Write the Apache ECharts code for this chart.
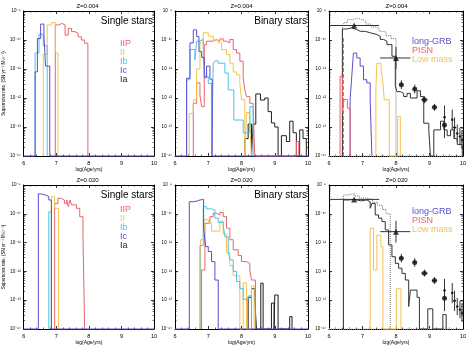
<!DOCTYPE html>
<html>
<head>
<meta charset="utf-8">
<script src="https://cdn.jsdelivr.net/npm/echarts@6/dist/echarts.min.js"></script>
<style>html,body{margin:0;padding:0;background:#fff;}</style>
</head>
<body>
<div id="main" style="width:469px;height:348px;"></div>
<script type="text/javascript">
// histograms: [logAge of left edge, log10 rate] ... last entry = right edge only
var s004IIP = [[6.97,-9.48],[7.07,-9.43],[7.17,-9.48],[7.27,-9.83],[7.37,-9.6],[7.47,-9.71],[7.57,-9.77],[7.67,-9.89],[7.77,-10.0],[7.87,-10.11],[7.97]];
var s004II  = [[6.6,-10.5],[6.72,-9.48],[6.85,-9.4],[6.97,-10.45],[7.05]];
var s004Ib  = [[6.35,-10.45],[6.47,-9.8],[6.6,-10.2],[6.72]];
var s004Ic  = [[6,-14],[6.35,-11.1],[6.42,-9.95],[6.52,-9.45],[6.62,-9.8],[6.67,-10.9],[6.8,-14],[10]];

var b004IIP = [[6.55,-12.18],[6.65,-11.48],[6.75,-11.9],[6.8,-12.3],[6.88,-10.16],[6.95,-10.04],[7.15,-9.98],[7.25,-10.04],[7.35,-9.96],[7.45,-10.04],[7.55,-10.1],[7.65,-9.98],[7.75,-10.33],[7.85,-10.45],[7.95,-10.73],[8.05,-11.3],[8.1,-11.72],[8.15,-11.95],[8.25,-12.18],[8.35,-12.3],[8.4,-14],[9.65,-13.5],[9.72]];
var b004II  = [[6.43,-12.53],[6.55,-12.06],[6.65,-11.0],[6.75,-10.1],[6.85,-9.75],[7.0,-9.87],[7.15,-10.0],[7.3,-10.1],[7.4,-10.33],[7.55,-10.5],[7.65,-10.8],[7.75,-11.1],[7.85,-11.2],[7.95,-11.5],[8.0,-12.06],[8.1,-14],[8.15,-12.5],[8.25,-12.9],[8.3]];
var b004Ib  = [[6.35,-11.37],[6.45,-10.33],[6.6,-10.68],[6.65,-10.04],[6.75,-9.98],[6.85,-10.6],[6.9,-11.25],[7.0,-11.5],[7.1,-14],[7.15,-10.8],[7.2,-10.72],[7.3,-10.8],[7.5,-11.14],[7.6,-11.72],[7.77,-12.76],[8.05,-13.2],[8.25,-12.3],[8.35]];
var b004Ic  = [[6,-14],[6.35,-11.32],[6.45,-10.1],[6.55,-9.65],[6.65,-9.88],[6.72,-10.4],[6.8,-10.6],[6.88,-11.3],[6.95,-10.9],[7.05,-11.35],[7.12,-14],[10]];
var b004Ia  = [[8.1,-13.4],[8.2,-12.9],[8.3,-14],[8.35,-12.9],[8.43,-11.86],[8.57,-12.07],[8.7,-12.0],[8.8,-12.47],[8.9,-12.86],[9.0,-13.0],[9.1,-14],[9.2,-13.3],[9.35,-13.5],[9.45,-12.8],[9.55,-13.2],[9.65,-14],[9.75,-13.1],[9.85,-13.4],[9.95]];

var t004All  = [[6.4,-9.62],[6.53,-9.58],[6.68,-9.64],[6.83,-9.7],[6.93,-9.7],[7.08,-9.75],[7.23,-9.81],[7.43,-9.87],[7.53,-9.98],[7.63,-10.04],[7.73,-10.16],[7.88,-10.56],[7.98,-11.6],[8.03,-11.78],[8.13,-11.84],[8.23,-11.95],[8.33,-11.84],[8.43,-12.0],[8.63,-11.75],[8.73,-11.95],[8.83,-12.87],[8.98,-13.1],[9.03,-14],[9.13,-13.1],[9.33,-12.8],[9.43,-13.1],[9.53,-13.3],[9.63,-13.1],[9.73,-13.4],[9.83,-13.6],[9.98]];
var t004Dot  = [[6.4,-9.5],[6.45,-9.4],[6.55,-9.3],[6.7,-9.25],[6.85,-9.3],[7.0,-9.35],[7.1,-9.45],[7.25,-9.55],[7.4,-9.6],[7.5,-9.7],[7.6,-9.72],[7.7,-9.85],[7.85,-9.95],[8.0]];
var t004GRB  = [[6.63,-12.06],[6.68,-11.25],[6.73,-10.45],[6.83,-10.62],[6.93,-10.9],[7.03,-11.37],[7.13,-11.48],[7.23,-12.06],[7.28]];
var t004PISN = [[6.33,-11.25],[6.4,-12.5],[6.45,-12.05],[6.55,-12.35],[6.63]];
var t004PISNd = [[6.43,-9.9],[6.43]];
var t004Low  = [[7.4,-11.7],[7.43,-10.8],[7.55,-10.95],[7.6,-11.37],[7.65,-12.06],[7.8,-14],[8.05,-12.64],[8.13]];

var s020IIP = [[6.95,-9.64],[7.05,-9.46],[7.15,-9.52],[7.25,-9.64],[7.32,-9.52],[7.37,-9.75],[7.42,-9.52],[7.47,-9.69],[7.62,-9.81],[7.72,-10.1],[7.82,-10.79],[7.87]];
var s020II  = [[6.85,-9.4],[6.95,-9.81],[7.07]];
var s020Ib  = [[6.77,-9.93],[6.85]];
var s020Ic  = [[6,-14],[6.45,-9.31],[6.55,-9.35],[6.67,-9.4],[6.77,-9.52],[6.85,-14],[10]];

var b020IIP = [[6.8,-11.95],[6.9,-10.33],[7.05,-10.1],[7.15,-9.98],[7.25,-10.04],[7.35,-9.95],[7.45,-10.1],[7.55,-10.5],[7.65,-10.9],[7.75,-11.25],[7.9,-11.45],[8.0,-11.66],[8.15,-11.72],[8.25,-11.95],[8.3,-12.3],[8.42]];
var b020II  = [[6.77,-10.9],[6.88,-10.2],[7.0,-10.33],[7.1,-10.6],[7.35,-10.25],[7.45,-10.7],[7.55,-11.35],[7.65,-11.8],[7.75,-12.15],[7.95,-14],[8.05,-12.4],[8.15,-14],[8.3,-12.5],[8.38]];
var b020Ib  = [[6.75,-11.1],[6.85,-9.75],[6.95,-9.83],[7.1,-9.87],[7.2,-10.15],[7.3,-10.3],[7.45,-10.4],[7.5,-10.8],[7.6,-11.3],[7.65,-11.6],[7.75,-12.0],[7.85,-12.35],[7.95,-12.6],[8.05,-12.97],[8.2,-12.85],[8.3]];
var b020Ic  = [[6,-14],[6.43,-9.58],[6.55,-9.56],[6.65,-9.52],[6.75,-9.5],[6.86,-10.5],[6.92,-11.14],[7.0,-11.31],[7.1,-11.66],[7.2,-12.3],[7.3,-14],[10]];
var b020Ia  = [[8.2,-12.9],[8.3,-12.6],[8.4,-13.0],[8.45,-14],[8.58,-12.41],[8.65,-14],[8.9,-13.1],[8.98,-14],[9.0,-12.82],[9.1,-14],[9.45,-13.57],[9.52]];

var t020All = [[6.43,-9.52],[6.6,-9.5],[6.75,-9.55],[6.95,-9.52],[7.13,-9.58],[7.23,-9.81],[7.28,-9.64],[7.38,-10.04],[7.48,-10.15],[7.58,-10.27],[7.68,-10.56],[7.78,-11.08],[7.88,-11.49],[7.98,-11.72],[8.08,-11.89],[8.18,-12.07],[8.28,-12.3],[8.38,-13.22],[8.43,-12.65],[8.63,-12.9],[8.7,-14],[8.95,-13.3],[9.1,-14],[9.4,-13.5],[9.5]];
var t020Dot = [[6.43,-9.35],[6.55,-9.3],[6.75,-9.38],[6.9,-9.45],[7.1,-9.5],[7.3,-9.6],[7.45,-9.7],[7.6,-9.85],[7.7,-10.0],[7.83]];
var t020Low = [[7.23,-10.5],[7.33,-11.95],[7.43,-10.74],[7.55,-11.14],[7.61,-14],[8.01,-12.6],[8.15]];
var floorLine = [[6,-14],[10]];

// observed rates (log10 SN / yr / Msun)
var obsAge   = [6.75, 8.0, 8.16, 8.56, 8.85, 9.15, 9.45, 9.45, 9.68, 9.75, 9.83, 9.91, 9.97];
var obsLg    = [-9.5, -10.62, -11.54, -11.69, -12.06, -12.32, -12.93, -12.66, -12.75, -13.02, -13.22, -13.33, -13.45];
var obsAgeLo = [6.0, 7.53, 8.1, 8.5, 8.75, 9.07, 9.4, 9.42, 9.65, 9.7, 9.8, 9.88, 9.94];
var obsAgeHi = [7.5, 8.43, 8.22, 8.62, 8.95, 9.23, 9.5, 9.48, 9.71, 9.8, 9.86, 9.94, 10.0];
var obsLgErr = [0.02, 0.38, 0.15, 0.15, 0.12, 0.12, 0.45, 0.4, 0.35, 0.35, 0.3, 0.3, 0.3];
var obsKind  = ['tri','tri','dot','dot','dot','dot','dot','small','small','small','small','small','small'];

var yTicks = ['10⁻¹⁴','10⁻¹³','10⁻¹²','10⁻¹¹','10⁻¹⁰','10⁻⁹'];
var xTicks = ['6','7','8','9','10'];

var RED = '#e8646e', YEL = '#f5c24c', CYA = '#4cc2e6', PUR = '#5a4ed0', BLK = '#1e1e1e';
var FLOOR = 1e-14;
var FONT = '"Liberation Sans", "DejaVu Sans", sans-serif';

function hist(edges) {
    var pts = [[edges[0][0], FLOOR]];
    edges.forEach(function (e) {
        pts.push([e[0], e.length > 1 ? Math.pow(10, e[1]) : FLOOR]);
    });
    return pts;
}

var grids = [
    {left: 21, top: 11, width: 133, height: 145},
    {left: 175, top: 11, width: 133, height: 145},
    {left: 329, top: 11, width: 135, height: 145},
    {left: 21, top: 185, width: 133, height: 144},
    {left: 175, top: 185, width: 133, height: 144},
    {left: 329, top: 185, width: 135, height: 144}
];
var panelTitles = ['Z=0.004', 'Z=0.004', 'Z=0.004', 'Z=0.020', 'Z=0.020', 'Z=0.020'];

var xAxes = [], yAxes = [], series = [], graphics = [];
grids.forEach(function (g, i) {
    var tick = {show: true, inside: true, length: 3, lineStyle: {color: '#000', width: 0.8}};
    var minor = {show: true, splitNumber: 5, length: 1.5, lineStyle: {color: '#000', width: 0.6}};
    xAxes.push({
        type: 'value', gridIndex: i, min: 6, max: 10, interval: 1, position: 'bottom',
        axisLine: {show: true, onZero: false, lineStyle: {color: '#000', width: 1}},
        axisTick: tick, minorTick: minor, splitLine: {show: false},
        axisLabel: {fontSize: 5.5, color: '#000', margin: 4, fontFamily: FONT,
            formatter: function (v) { return xTicks[Math.round(v) - 6]; }},
        name: 'log(Age/yrs)', nameLocation: 'middle', nameGap: 11,
        nameTextStyle: {fontSize: 5, color: '#000', fontFamily: FONT}
    });
    xAxes.push({
        type: 'value', gridIndex: i, min: 6, max: 10, interval: 1, position: 'top',
        axisLine: {show: true, onZero: false, lineStyle: {color: '#000', width: 1}},
        axisTick: tick, minorTick: minor, splitLine: {show: false}, axisLabel: {show: false}
    });
    var ymin = {show: true, splitNumber: 9, length: 1.5, lineStyle: {color: '#000', width: 0.6}};
    yAxes.push({
        type: 'log', logBase: 10, gridIndex: i, min: 1e-14, max: 1e-9, position: 'left',
        axisLine: {show: true, onZero: false, lineStyle: {color: '#000', width: 1}},
        axisTick: tick, minorTick: ymin, splitLine: {show: false},
        axisLabel: {fontSize: 4.5, color: '#000', margin: 3, fontFamily: FONT,
            formatter: function (v) { return yTicks[Math.round(Math.log10(v)) + 14]; }},
        name: (i % 3 === 0) ? 'Supernova rate, (SN yr⁻¹ M☉⁻¹)' : '',
        nameLocation: 'middle', nameGap: 15,
        nameTextStyle: {fontSize: 4.5, color: '#000', fontFamily: FONT}
    });
    yAxes.push({
        type: 'log', logBase: 10, gridIndex: i, min: 1e-14, max: 1e-9, position: 'right',
        axisLine: {show: true, onZero: false, lineStyle: {color: '#000', width: 1}},
        axisTick: tick, minorTick: ymin, splitLine: {show: false}, axisLabel: {show: false}
    });
    graphics.push({type: 'text', x: g.left + g.width / 2, y: g.top - 5,
        style: {text: panelTitles[i], fill: '#000', font: '6px ' + FONT, align: 'center', verticalAlign: 'middle'}});
});

function addHist(panel, edges, color, extra) {
    var s = {
        type: 'line', xAxisIndex: panel * 2, yAxisIndex: panel * 2, data: hist(edges),
        step: 'end', symbol: 'none', showSymbol: false, clip: false, animation: false, silent: true,
        lineStyle: {color: color, width: 1}, itemStyle: {color: color}
    };
    if (extra) s.lineStyle.type = extra;
    series.push(s);
}

// Panel 0: single, Z=0.004
addHist(0, s004IIP, RED); addHist(0, s004II, YEL); addHist(0, s004Ib, CYA); addHist(0, s004Ic, PUR);
// Panel 1: binary, Z=0.004
addHist(1, b004Ia, BLK); addHist(1, b004IIP, RED); addHist(1, b004II, YEL); addHist(1, b004Ib, CYA); addHist(1, b004Ic, PUR);
// Panel 2: totals, Z=0.004
addHist(2, floorLine, YEL, 'dotted');
addHist(2, t004Dot, '#777', 'dotted'); addHist(2, t004All, '#333');
addHist(2, t004GRB, PUR); addHist(2, t004PISN, RED); addHist(2, t004PISNd, RED, 'dashed'); addHist(2, t004Low, YEL);
// Panel 3: single, Z=0.020
addHist(3, s020IIP, RED); addHist(3, s020II, YEL); addHist(3, s020Ib, CYA); addHist(3, s020Ic, PUR);
// Panel 4: binary, Z=0.020
addHist(4, b020Ia, BLK); addHist(4, b020IIP, RED); addHist(4, b020II, YEL); addHist(4, b020Ib, CYA); addHist(4, b020Ic, PUR);
// Panel 5: totals, Z=0.020
addHist(5, floorLine, YEL, 'dotted');
addHist(5, t020Dot, '#777', 'dotted'); addHist(5, t020All, '#333'); addHist(5, t020Low, YEL);

// observations on both total panels
var errData = obsAge.map(function (a, k) {
    return [a, Math.pow(10, obsLg[k]), obsAgeLo[k], obsAgeHi[k],
        Math.pow(10, obsLg[k] - obsLgErr[k]), Math.pow(10, obsLg[k] + obsLgErr[k])];
});
var ptData = obsAge.map(function (a, k) {
    var big = obsKind[k] === 'tri';
    return {value: [a, Math.pow(10, obsLg[k])],
        symbol: big ? 'triangle' : 'circle',
        symbolSize: big ? 6 : (obsKind[k] === 'dot' ? 5 : 2.5)};
});
function renderErr(params, api) {
    var a = api.coord([api.value(2), api.value(1)]);
    var b = api.coord([api.value(3), api.value(1)]);
    var lo = api.coord([api.value(0), api.value(4)]);
    var hi = api.coord([api.value(0), api.value(5)]);
    var st = {stroke: '#333', lineWidth: 1};
    return {type: 'group', children: [
        {type: 'line', shape: {x1: a[0], y1: a[1], x2: b[0], y2: b[1]}, style: st},
        {type: 'line', shape: {x1: lo[0], y1: lo[1], x2: hi[0], y2: hi[1]}, style: st}
    ]};
}
[2, 5].forEach(function (p) {
    series.push({type: 'custom', xAxisIndex: p * 2, yAxisIndex: p * 2, renderItem: renderErr,
        data: errData, encode: {x: [0, 2, 3], y: [1, 4, 5]}, animation: false, silent: true, z: 5});
    series.push({type: 'scatter', xAxisIndex: p * 2, yAxisIndex: p * 2, data: ptData,
        itemStyle: {color: '#111'}, animation: false, silent: true, z: 6});
});

function txt(x, y, s, color, size, align) {
    graphics.push({type: 'text', x: x, y: y,
        style: {text: s, fill: color, font: size + 'px ' + FONT, align: align || 'left', verticalAlign: 'middle'}});
}
var snLabels = ['IIP', 'II', 'Ib', 'Ic', 'Ia'];
var snColors = [RED, YEL, CYA, PUR, BLK];
[[0, 44], [3, 210]].forEach(function (p) {
    var g = grids[p[0]];
    txt(g.left + g.width - 1, g.top + 10, 'Single stars', '#000', 10, 'right');
    snLabels.forEach(function (l, k) { txt(120, p[1] + k * 9, l, snColors[k], 9); });
});
[1, 4].forEach(function (i) {
    var g = grids[i];
    txt(g.left + g.width - 1, g.top + 10, 'Binary stars', '#000', 10, 'right');
});
[[2, 42], [5, 212]].forEach(function (p) {
    txt(412, p[1], 'long-GRB', PUR, 9);
    txt(412, p[1] + 8.7, 'PISN', RED, 9);
    txt(412, p[1] + 17.4, 'Low mass', YEL, 9);
});

var chart = echarts.init(document.getElementById('main'), null, {renderer: 'canvas'});
chart.setOption({
    animation: false,
    backgroundColor: '#fff',
    grid: grids,
    xAxis: xAxes,
    yAxis: yAxes,
    series: series,
    graphic: graphics
});
</script>
</body>
</html>
